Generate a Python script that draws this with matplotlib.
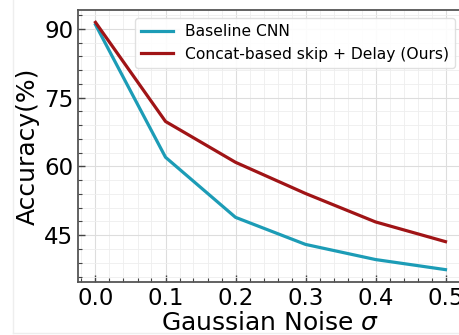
import matplotlib
matplotlib.use("Agg")
import matplotlib.pyplot as plt
from matplotlib.ticker import MultipleLocator
from matplotlib.lines import Line2D

noise = [0.0, 0.1, 0.2, 0.3, 0.4, 0.5]
baseline_acc = [90.9, 62.0, 48.9, 43.0, 39.7, 37.5]
ours_acc = [91.4, 69.8, 60.9, 54.1, 47.9, 43.6]
labels = ["Baseline CNN", "Concat-based skip + Delay (Ours)"]

fig = plt.figure(figsize=(4.6, 3.35), dpi=100)
ax = fig.add_axes([78 / 460, 1 - 282 / 335, 385 / 460, 272 / 335])

ax.plot(noise, baseline_acc, color="#1c9cb6", lw=2.3, label=labels[0])
ax.plot(noise, ours_acc, color="#a01416", lw=2.3, label=labels[1])

ax.set_xticks([0.0, 0.1, 0.2, 0.3, 0.4, 0.5])
ax.set_yticks([45, 60, 75, 90])
ax.xaxis.set_minor_locator(MultipleLocator(0.02))
ax.yaxis.set_minor_locator(MultipleLocator(3))
ax.tick_params(which="both", direction="in", color="#444444", labelsize=16.5)
ax.tick_params(which="major", length=5, width=1)
ax.tick_params(which="minor", length=3, width=0.8)
ax.grid(which="major", color="#dddddd", lw=0.8)
ax.grid(which="minor", color="#eeeeee", lw=0.6)
ax.set_axisbelow(True)

for s in ax.spines.values():
    s.set_color("#555555")
    s.set_linewidth(1.3)

ax.set_xlabel(r"Gaussian Noise $\sigma$", fontsize=18, labelpad=1)
ax.set_ylabel("Accuracy(%)", fontsize=18, labelpad=3)
ax.legend(loc="upper right", fontsize=11.2, framealpha=0.9, edgecolor="#dddddd")

# faint frame of the original screenshot
fig.add_artist(Line2D([13 / 460, 13 / 460], [2 / 335, 1.0], transform=fig.transFigure, color="#eeeeee", lw=1))
fig.add_artist(Line2D([13 / 460, 1.0], [2 / 335, 2 / 335], transform=fig.transFigure, color="#eeeeee", lw=1))

fig.savefig("out.png", dpi=100)
